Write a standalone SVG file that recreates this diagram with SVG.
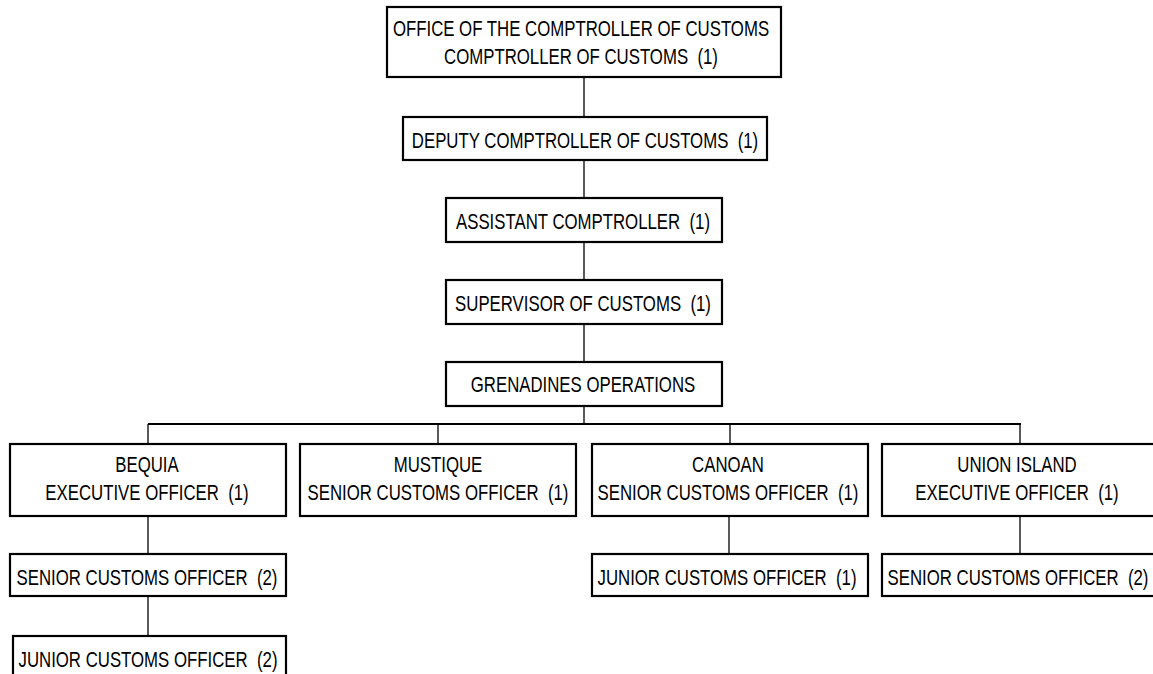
<svg xmlns="http://www.w3.org/2000/svg" width="1153" height="674" viewBox="0 0 1153 674">
<style>
  .box { fill: #fff; stroke: #000; stroke-width: 2.2; }
  .t { font-family: "Liberation Sans", Arial, sans-serif; font-size: 16.8px; fill: #000; text-anchor: middle; white-space: pre; }
  .c { stroke: #000; stroke-width: 1.3; fill: none; }
  .bus { stroke: #000; stroke-width: 2; fill: none; }
</style>
<rect width="1153" height="674" fill="#fff"/>
<g id="connectors">
  <line class="c" x1="584" y1="77" x2="584" y2="117"/>
  <line class="c" x1="584" y1="160" x2="584" y2="198"/>
  <line class="c" x1="584" y1="242" x2="584" y2="280"/>
  <line class="c" x1="584" y1="324" x2="584" y2="362"/>
  <line class="c" x1="584" y1="406" x2="584" y2="424"/>
  <line class="bus" x1="148" y1="424" x2="1021" y2="424"/>
  <line class="c" x1="148" y1="424" x2="148" y2="444"/>
  <line class="c" x1="438" y1="424" x2="438" y2="444"/>
  <line class="c" x1="730" y1="424" x2="730" y2="444"/>
  <line class="c" x1="1020" y1="424" x2="1020" y2="444"/>
  <line class="c" x1="148" y1="516" x2="148" y2="554"/>
  <line class="c" x1="148" y1="596" x2="148" y2="636"/>
  <line class="c" x1="729" y1="516" x2="729" y2="554"/>
  <line class="c" x1="1020" y1="516" x2="1020" y2="554"/>
</g>
<g id="comptroller">
  <rect class="box" x="387" y="7" width="394" height="70"/>
  <text class="t" transform="translate(581,35.5) scale(1,1.3)">OFFICE OF THE COMPTROLLER OF CUSTOMS</text>
  <text class="t" transform="translate(581,63.5) scale(1,1.3)">COMPTROLLER OF CUSTOMS  (1)</text>
</g>
<g id="deputy">
  <rect class="box" x="403" y="117" width="364" height="43"/>
  <text class="t" transform="translate(585,148) scale(1,1.3)">DEPUTY COMPTROLLER OF CUSTOMS  (1)</text>
</g>
<g id="assistant">
  <rect class="box" x="446" y="198" width="276" height="44"/>
  <text class="t" transform="translate(583,229) scale(1,1.3)">ASSISTANT COMPTROLLER  (1)</text>
</g>
<g id="supervisor">
  <rect class="box" x="446" y="280" width="276" height="44"/>
  <text class="t" transform="translate(583,311) scale(1,1.3)">SUPERVISOR OF CUSTOMS  (1)</text>
</g>
<g id="grenadines">
  <rect class="box" x="446" y="362" width="276" height="44"/>
  <text class="t" transform="translate(583,392) scale(1,1.3)">GRENADINES OPERATIONS</text>
</g>
<g id="bequia">
  <rect class="box" x="10" y="444" width="276" height="72"/>
  <text class="t" transform="translate(147,472) scale(1,1.3)">BEQUIA</text>
  <text class="t" transform="translate(147,500) scale(1,1.3)">EXECUTIVE OFFICER  (1)</text>
</g>
<g id="mustique">
  <rect class="box" x="300" y="444" width="276" height="72"/>
  <text class="t" transform="translate(438,472) scale(1,1.3)">MUSTIQUE</text>
  <text class="t" transform="translate(438,500) scale(1,1.3)">SENIOR CUSTOMS OFFICER  (1)</text>
</g>
<g id="canoan">
  <rect class="box" x="592" y="444" width="276" height="72"/>
  <text class="t" transform="translate(728,472) scale(1,1.3)">CANOAN</text>
  <text class="t" transform="translate(728,500) scale(1,1.3)">SENIOR CUSTOMS OFFICER  (1)</text>
</g>
<g id="union-island">
  <rect class="box" x="882" y="444" width="276" height="72"/>
  <text class="t" transform="translate(1017,472) scale(1,1.3)">UNION ISLAND</text>
  <text class="t" transform="translate(1017,500) scale(1,1.3)">EXECUTIVE OFFICER  (1)</text>
</g>
<g id="bequia-senior">
  <rect class="box" x="10" y="554" width="276" height="42"/>
  <text class="t" transform="translate(147,584.5) scale(1,1.3)">SENIOR CUSTOMS OFFICER  (2)</text>
</g>
<g id="bequia-junior">
  <rect class="box" x="13" y="636" width="273" height="44"/>
  <text class="t" transform="translate(148,666.5) scale(1,1.3)">JUNIOR CUSTOMS OFFICER  (2)</text>
</g>
<g id="canoan-junior">
  <rect class="box" x="592" y="554" width="276" height="42"/>
  <text class="t" transform="translate(727,584.5) scale(1,1.3)">JUNIOR CUSTOMS OFFICER  (1)</text>
</g>
<g id="union-senior">
  <rect class="box" x="882" y="554" width="276" height="42"/>
  <text class="t" transform="translate(1018,584.5) scale(1,1.3)">SENIOR CUSTOMS OFFICER  (2)</text>
</g>
</svg>
